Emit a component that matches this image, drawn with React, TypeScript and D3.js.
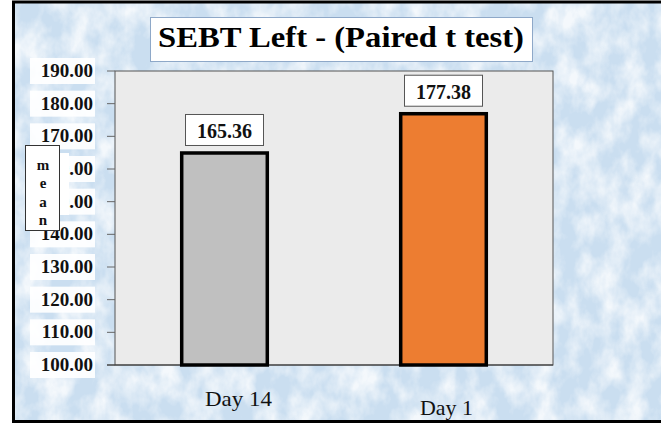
import React from "react";
import * as d3 from "d3";

const categories = ["Day 14", "Day 1"];
const values = [165.36, 177.38];
const valueLabels = ["165.36", "177.38"];
const barColors = ["#c0c0c0", "#ed7d31"];
const yTicks = [100, 110, 120, 130, 140, 150, 160, 170, 180, 190];
const titleText = "SEBT Left - (Paired t test)";
const yAxisLetters = ["m", "e", "a", "n"];

const W = 661;
const H = 425;
const plot = { left: 115, right: 553, top: 71, bottom: 365 };
const serif = "'Liberation Serif', 'Times New Roman', serif";

export default function App() {
  const y = d3.scaleLinear().domain([100, 190]).range([plot.bottom, plot.top]);
  const x = d3
    .scaleBand<string>()
    .domain(categories)
    .range([plot.left, plot.right])
    .paddingInner(0.6)
    .paddingOuter(0.3);
  const bw = x.bandwidth();
  const catLayout: Record<string, { dx: number; base: number; len: number }> = {
    "Day 14": { dx: 14, base: 406, len: 67 },
    "Day 1": { dx: 3, base: 415, len: 53 },
  };

  return (
    <svg
      width={W}
      height={H}
      style={{ position: "absolute", left: 0, top: 0, display: "block", background: "#ffffff" }}
    >
      <defs>
        <filter id="tex" x="0" y="0" width="100%" height="100%">
          <feTurbulence type="fractalNoise" baseFrequency="0.045 0.03" numOctaves="4" seed="11" result="n" />
          <feColorMatrix
            in="n"
            type="matrix"
            values="0 0 0 0 1  0 0 0 0 1  0 0 0 0 1  2.2 0 0 0 -0.75"
          />
        </filter>
      </defs>
      {/* outer frame with background */}
      <rect x={13.5} y={2} width={W + 20} height={419.5} fill="#cadef0" />
      <rect x={13.5} y={2} width={W + 20} height={419.5} fill="#fff" filter="url(#tex)" opacity={0.8} />
      <rect x={13.5} y={2} width={W + 20} height={419.5} fill="none" stroke="#000" strokeWidth={3} />

      {/* title */}
      <rect x={150.5} y={17.5} width={382} height={44} fill="#fff" stroke="#8ea8c8" strokeWidth={1} />
      <text
        x={341}
        y={47}
        textAnchor="middle"
        fontFamily={serif}
        fontWeight="bold"
        fontSize={29}
        textLength={366}
        lengthAdjust="spacingAndGlyphs"
        fill="#000"
      >
        {titleText}
      </text>

      {/* plot area */}
      <rect
        x={plot.left}
        y={plot.top}
        width={plot.right - plot.left}
        height={plot.bottom - plot.top}
        fill="#ebebeb"
        stroke="#555"
        strokeWidth={1}
      />

      {/* y tick labels with white backgrounds */}
      {yTicks.map((t) => (
        <g key={t}>
          <rect x={30} y={y(t) - 13} width={65} height={26} fill="#fff" opacity={0.92} />
          <line x1={107} x2={plot.left} y1={y(t)} y2={y(t)} stroke="#666" strokeWidth={1} />
          <text
            x={93}
            y={y(t) + 6}
            textAnchor="end"
            fontFamily={serif}
            fontWeight="bold"
            fontSize={19}
            fill="#111"
          >
            {d3.format(".2f")(t)}
          </text>
        </g>
      ))}
      <line x1={107} x2={plot.right} y1={plot.bottom} y2={plot.bottom} stroke="#333" strokeWidth={1} />

      {/* bars */}
      {categories.map((c, i) => {
        const bx = x(c)!;
        const top = y(values[i]);
        const cx = bx + bw / 2;
        return (
          <g key={c}>
            <rect
              x={bx + 1}
              y={top + 1.5}
              width={bw - 2}
              height={plot.bottom - top - 1.5}
              fill={barColors[i]}
              stroke="#000"
              strokeWidth={3.5}
            />
            <rect x={cx - 39} y={top - 37} width={78} height={31} fill="#fff" stroke="#555" strokeWidth={1} />
            <text
              x={cx}
              y={top - 13}
              textAnchor="middle"
              fontFamily={serif}
              fontWeight="bold"
              fontSize={20}
              fill="#111"
            >
              {valueLabels[i]}
            </text>
          </g>
        );
      })}

      {/* category labels */}
      {categories.map((c) => {
        const l = catLayout[c];
        return (
          <text
            key={c}
            x={x(c)! + bw / 2 + l.dx}
            y={l.base}
            textAnchor="middle"
            fontFamily={serif}
            fontSize={21}
            textLength={l.len}
            lengthAdjust="spacingAndGlyphs"
            fill="#111"
          >
            {c}
          </text>
        );
      })}

      {/* y axis title box (covers part of the tick labels, as in the original) */}
      <rect x={26} y={153} width={43} height={62} fill="#fff" />
      <rect x={25.5} y={145.5} width={34} height={85} fill="#fff" stroke="#333" strokeWidth={1} />
      {yAxisLetters.map((ch, i) => (
        <text
          key={i}
          x={43}
          y={170 + i * 18.3}
          textAnchor="middle"
          fontFamily={serif}
          fontWeight="bold"
          fontSize={15}
          fill="#111"
        >
          {ch}
        </text>
      ))}
    </svg>
  );
}
